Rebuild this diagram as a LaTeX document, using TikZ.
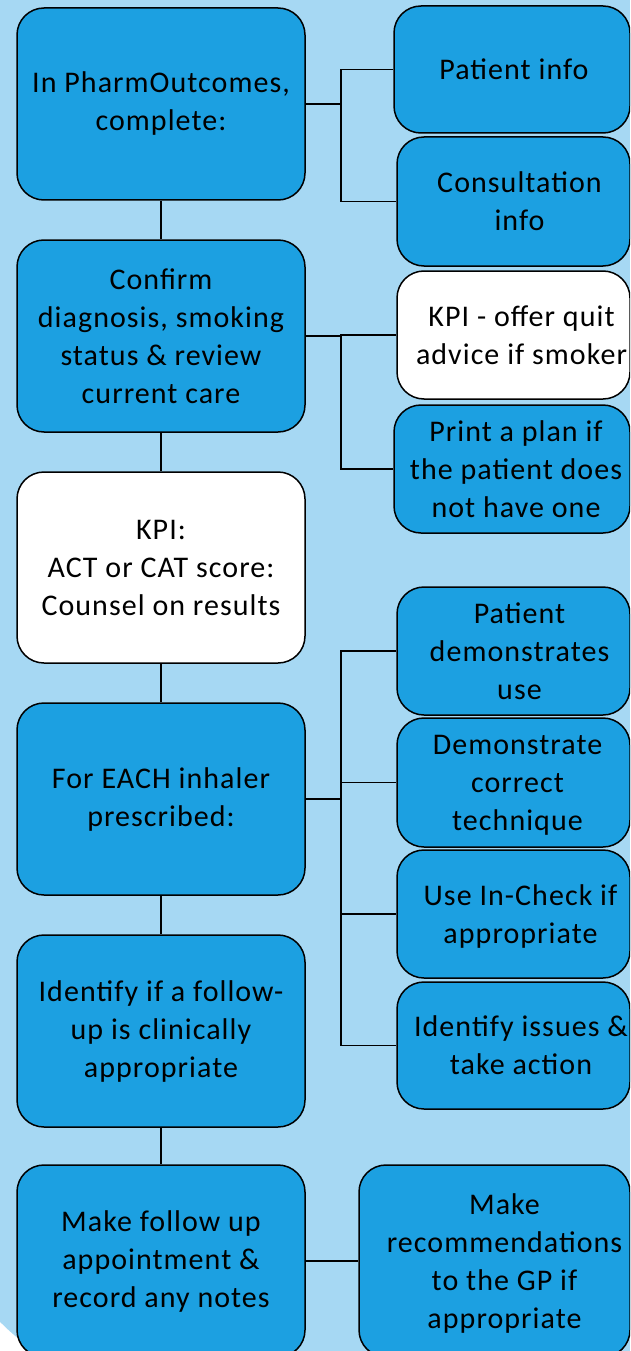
\documentclass[tikz,border=0pt]{standalone}
\usepackage{fontspec}
\setmainfont[LetterSpace=3.5]{Carlito}
\definecolor{bgblue}{RGB}{166,216,243}
\definecolor{boxblue}{RGB}{28,160,225}
\newcommand\shiftedtext[2]{\hspace*{#1}\raisebox{-2.5pt}[\height][\depth]{\begin{tabular}{@{}c@{}}#2\end{tabular}}}
\tikzset{
  box/.style={draw=black, line width=1.5pt, rounded corners=27pt, fill=boxblue, align=center,
    inner sep=0pt, font=\fontsize{30}{38}\selectfont, text=black},
  whitebox/.style={box, fill=white},
  conn/.style={draw=black, line width=1.5pt}
}
\begin{document}
\begin{tikzpicture}[x=1pt,y=-1pt]
\useasboundingbox (0,0) rectangle (630,1351);
\clip (0,0) rectangle (630,1351);
\fill[bgblue] (0,0) rectangle (630,1351);
\fill[white] (0,1322) .. controls (14,1336) and (24,1344) .. (38,1351) -- (0,1351) -- cycle;
% left column
\node[box, minimum width=288pt, minimum height=192pt] (b1) at (161,104) {In PharmOutcomes,\\complete:};
\node[box, minimum width=288pt, minimum height=192pt] (b2) at (161,336) {Confirm\\diagnosis, smoking\\status \& review\\current care};
\node[whitebox, minimum width=288pt, minimum height=191pt] (b3) at (161,567.5) {KPI:\\ACT or CAT score:\\Counsel on results};
\node[box, minimum width=288pt, minimum height=192pt] (b4) at (161,799) {For EACH inhaler\\prescribed:};
\node[box, minimum width=288pt, minimum height=192pt] (b5) at (161,1031) {Identify if a follow-\\up is clinically\\appropriate};
\node[box, minimum width=288pt, minimum height=192pt] (b6) at (161,1261) {Make follow up\\appointment \&\\record any notes};
% right column
\node[box, minimum width=236pt, minimum height=127pt] (pinfo) at (512,69.5) {\shiftedtext{4pt}{Patient info}};
\node[box, minimum width=233pt, minimum height=129pt] (cinfo) at (513.5,201.5) {\shiftedtext{12pt}{Consultation\\info}};
\node[whitebox, minimum width=233pt, minimum height=128pt] (kpiq) at (513.5,335) {\shiftedtext{16pt}{KPI - offer quit\\advice if smoker}};
\node[box, minimum width=236pt, minimum height=128pt] (print) at (512,469) {\shiftedtext{8pt}{Print a plan if\\the patient does\\not have one}};
\node[box, minimum width=233pt, minimum height=128pt] (pdem) at (513.5,651) {\shiftedtext{12pt}{Patient\\demonstrates\\use}};
\node[box, minimum width=233pt, minimum height=129pt] (demo) at (513.5,782.5) {\shiftedtext{8pt}{Demonstrate\\correct\\technique}};
\node[box, minimum width=233pt, minimum height=128pt] (inch) at (513.5,914) {\shiftedtext{14pt}{Use In-Check if\\appropriate}};
\node[box, minimum width=233pt, minimum height=127pt] (iss) at (513.5,1045.5) {\shiftedtext{15pt}{Identify issues \&\\take action}};
\node[box, minimum width=271pt, minimum height=192pt] (rec) at (494.5,1261) {\shiftedtext{20pt}{Make\\recommendations\\to the GP if\\appropriate}};
% vertical connectors
\draw[conn] (b1.south) -- (b2.north);
\draw[conn] (b2.south) -- (b3.north);
\draw[conn] (b3.south) -- (b4.north);
\draw[conn] (b4.south) -- (b5.north);
\draw[conn] (b5.south) -- (b6.north);
% branch connectors
\coordinate (j1) at (341,104);
\coordinate (j2) at (341,336);
\coordinate (j3) at (341,799);
\draw[conn] (b1.east) -- (j1);
\draw[conn] (j1) |- (pinfo.west);
\draw[conn] (j1) |- (cinfo.west);
\draw[conn] (b2.east) -- (j2);
\draw[conn] (j2) |- (kpiq.west);
\draw[conn] (j2) |- (print.west);
\draw[conn, line width=2.2pt] (b4.east) -- (j3);
\draw[conn] (j3) |- (pdem.west);
\draw[conn] (j3) |- (demo.west);
\draw[conn] (j3) |- (inch.west);
\draw[conn] (j3) |- (iss.west);
\draw[conn] (b6.east) -- (rec.west);
\end{tikzpicture}
\end{document}
